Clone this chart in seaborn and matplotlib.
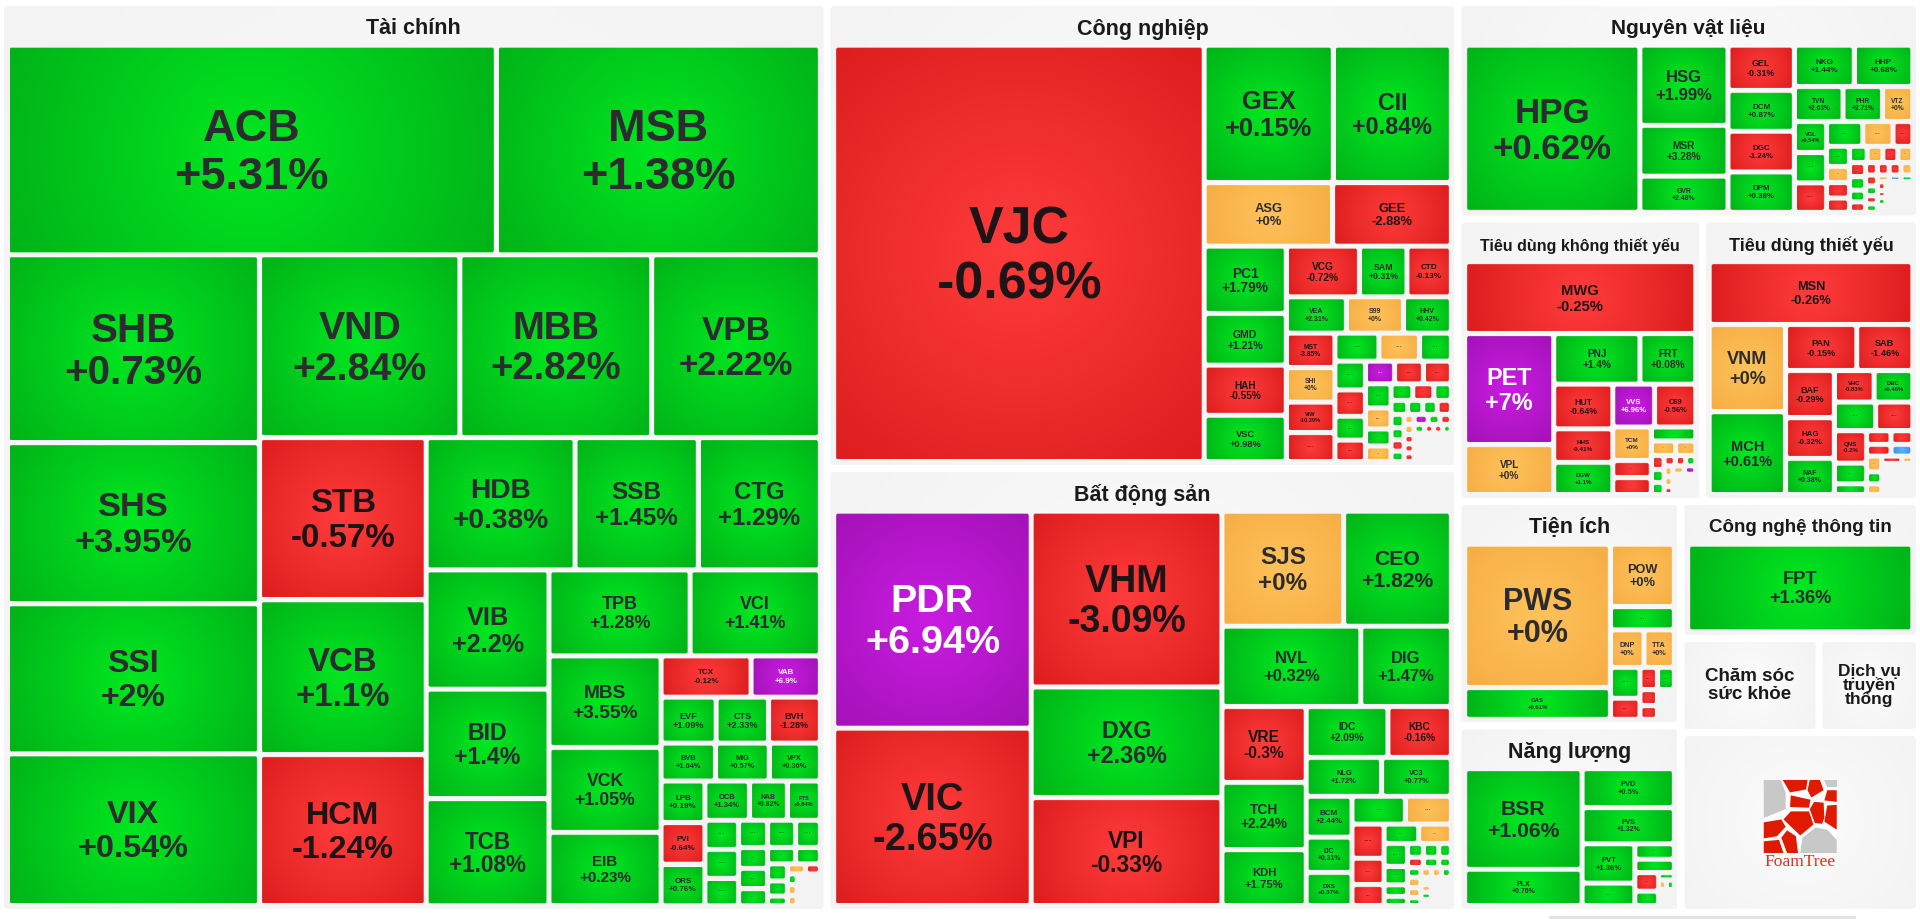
import numpy as np
import matplotlib
matplotlib.use('Agg')
import matplotlib.pyplot as plt
from matplotlib.patches import FancyBboxPatch, Rectangle
import seaborn as sns

# --- DATA: one set of arrays per sector ---
# names run out before the tiles do: the rest are the unnamed "..." tiles.
# trees: nested lists, direction flips each level, an int = that many tiles in a run
fin_names = ['ACB', 'MSB', 'SHB', 'SHS', 'SSI', 'VIX', 'VND', 'MBB', 'VPB', 'STB', 'VCB', 'HCM', 'HDB', 'SSB', 'CTG',
             'VIB', 'BID', 'TCB', 'TPB', 'VCI', 'MBS', 'VCK', 'EIB', 'TCX', 'VAB', 'EVF', 'CTS', 'BVH', 'BVB', 'MIG',
             'VPX', 'LPB', 'PVI', 'ORS', 'OCB', 'NAB', 'FTS']
fin_change = [5.31, 1.38, 0.73, 3.95, 2, 0.54, 2.84, 2.82, 2.22, -0.57, 1.1, -1.24, 0.38, 1.45, 1.29,
              2.2, 1.4, 1.08, 1.28, 1.41, 3.55, 1.05, 0.23, -0.12, 6.9, 1.09, 2.33, -1.28, 1.64, 0.57,
              0.36, 0.19, -0.64, 0.76, 1.34, 0.82, 0.84,
              1, 1, 1, 1, 1, 1, 1, 1, 1, 1, 1, 1, 1, 1, 0, -1, 1, 0, 0, None]
fin_weight = [68600, 45450, 31724, 27192, 25338, 25647, 24518, 23472, 20631, 18088, 17272, 16864, 13176, 10908, 10800,
              9800, 9000, 8800, 8120, 7490, 6870, 6370, 5505, 2485, 1911, 1693, 1612, 1592, 1380, 1363,
              1296, 1220, 1220, 1220, 1169, 996, 866,
              657, 649, 619, 531, 404, 394, 332, 509, 450, 308, 272, 226, 200, 129, 122, 100, 71, 71, 69, 492]
fin_tree = [2, [4, [3, [3, [3, [3, [2, [3, [2, 3, 3, [3, [3, [3, 4, [2, 2, [3, [2, [3, 1]]]]]]]]]]]]]]]]

cn_names = ['VJC', 'GEX', 'CII', 'ASG', 'GEE', 'PC1', 'GMD', 'HAH', 'VSC', 'VCG', 'SAM', 'CTD', 'VEA', 'S99', 'HHV',
            'MST', 'SHI', 'VIW']
cn_change = [-0.69, 0.15, 0.84, 0, -2.88, 1.79, 1.21, -0.55, 0.98, -0.72, 0.31, -0.13, 2.31, 0, 0.42,
             -3.85, 0, -10.29, -1, 1, 0, 1, 1, -1, 1, -1, 7, -1, -1, 1, 0, 1, 0, 1, -1, 1, 1, 1, 1, -1,
             1, 1, -1, 1, 0, 0, -1, -1, -1, 7, 1, -1, 1, -1, -1, 1, None]
cn_weight = [102340, 11763, 10760, 5407, 4996, 3662, 2810, 2729, 2529, 2458, 1597, 1490, 1448, 1375, 1153,
             1114, 1114, 985, 942, 817, 752, 591, 582, 532, 481, 438, 438, 433, 420, 410, 357, 289, 269, 240, 233, 192,
             155, 140, 134, 131, 115, 104, 98, 92, 67, 67, 62, 60, 60, 93, 78, 75, 61, 52, 52, 50, 706]
cn_tree = [1, [2, 2, [4, [3, 3, [4, [3, [4, [3, [4, [3, 4, [4, 5, [3, 4, 1]]]]]]]]]]]]

bds_names = ['PDR', 'VIC', 'VHM', 'DXG', 'VPI', 'SJS', 'CEO', 'NVL', 'DIG', 'VRE', 'TCH', 'KDH', 'IDC', 'KBC', 'NLG',
             'VC3', 'BCM', 'IJC', 'DXS']
bds_change = [6.94, -2.65, -3.09, 2.36, -0.33, 0, 1.82, 0.32, 1.47, -0.3, 2.24, 1.75, 2.09, -0.16, 1.72,
              0.77, 2.44, 0.31, 0.37, 1, 0, -1, -1, -1, 1, 0, 1, 1, 1, 1, 1, 1, 1, -1, 1, 1, 1, 0, 0, 1,
              0, 0, 1, None, 0, 1, None, None]
bds_weight = [28328, 23192, 22165, 13950, 13640, 9254, 8184, 7378, 4810, 4224, 3748, 3124, 2750, 2131, 1936,
              1790, 1237, 1070, 1009, 980, 845, 725, 558, 451, 444, 418, 352, 287, 179, 145, 144, 140, 114,
              109, 106, 86, 86, 92, 89, 71, 67, 64, 64, 50, 52, 49, 44, 377]
bds_tree = [2, 3, [2, 2, [3, [2, 2, [3, [2, [3, [2, [4, [3, 3, [4, [3, [4, 1]]]]]]]]]]]]]

nvl_names = ['HPG', 'HSG', 'MSR', 'GVR', 'GEL', 'DCM', 'DGC', 'DPM', 'NKG', 'HHP', 'TVN', 'PHR', 'VTZ', 'VGL']
nvl_change = [0.62, 1.99, 3.28, 2.48, -0.31, 0.87, -1.24, 0.38, 1.44, 0.68, 2.63, 2.71, 0, 0.54,
              1, -1, 1, 0, -1, 1, 0, -1, -1, 1, 0, -1, 0, -1, 1, 1, -1, -1, -1, -1, 0, -1, 1, -1, 1,
              0, -7, 1, -1, -1, 1, None, None]
nvl_weight = [19235, 4642, 2939, 2092, 1971, 1780, 1773, 1758, 1629, 1593, 1120, 908, 696, 654, 643, 622, 590, 492, 321,
              304, 243, 233, 215, 190, 169, 161, 160, 149, 142, 124, 110, 96, 96, 96, 96, 85, 77, 63, 66,
              52, 52, 52, 51, 38, 45, 38, 539]
nvl_tree = [1, 3, 4, [2, 3, [3, [3, [4, [4, [4, [4, [4, [3, [4, 1]]]]]]]]]]]

tdk_names = ['MWG', 'PET', 'VPL', 'PNJ', 'FRT', 'HUT', 'HHS', 'DGW', 'VVS', 'C69', 'TCM']
tdk_change = [-0.25, 7, 0, 1.4, 0.08, -0.64, -0.41, 1.1, 6.96, -0.56, 0,
              -1, -1, 1, 0, 0, -1, 1, 1, -1, -1, 1, 0, 0, -1, 0, 7, None]
tdk_weight = [10974, 6525, 2950, 2874, 1862, 1742, 1308, 1263, 1179, 1169, 852,
              434, 434, 410, 236, 194, 118, 110, 104, 76, 71, 69, 62, 58, 48, 63, 63, 312]
tdk_tree = [1, [2, [2, [3, [2, [3, [1, 2, [3, [3, [3, [2, 1]]]]]]]]]]]

tdt_names = ['MSN', 'VNM', 'MCH', 'PAN', 'SAB', 'BAF', 'HAG', 'NAF', 'VHC', 'DBC', '...', '...', 'QNS']
tdt_change = [-0.26, 0, 0.61, -0.15, -1.46, -0.29, -0.32, 0.38, -0.83, 0.46, 1, -1, -0.2,
              1, 1, -1, -1, -1, -7, 0, 1, 0, -1, 0, None]
tdt_weight = [8411, 4373, 4164, 2155, 1695, 1513, 1305, 1166, 825, 801, 780, 700, 686,
              438, 233, 220, 196, 188, 167, 157, 120, 110, 97, 53, 640]
tdt_tree = [1, [2, [2, [3, [2, 2, [3, [2, 2, [3, [2, 1]]]]]]]]]

ti_names = ['PWS', 'GAS', 'POW', '...', 'DNP', 'TTA']
ti_change = [0, 0.61, 0, 1, 0, 0, 1, -1, -1, -1, -1, 1, None]
ti_weight = [184458, 40702, 35245, 13110, 11150, 10035, 8052, 5500, 3432, 2470, 2106, 3300, 4400]
ti_tree = [2, [1, 1, 2, [2, 3, 2]]]

nl_names = ['BSR', 'PLX', 'PVD', 'PVS', 'PVT']
nl_change = [1.06, 0.76, 0.5, 1.32, 1.36, 1, 1, 1, -1, 1, 1, 0, 1, None]
nl_weight = [104675, 37921, 31842, 29509, 18369, 10598, 5405, 4700, 3878, 3067, 1010, 682, 682, 2256]
nl_tree = [2, [1, 1, [2, [1, 1, [2, [1, 2, 1]]]]]]

cntt_names = ['FPT']
cntt_change = [1.36]
cntt_weight = [1]
cntt_tree = [1]

sector_titles = ['Tài chính', 'Công nghiệp', 'Bất động sản', 'Nguyên vật liệu', 'Tiêu dùng không thiết yếu',
                 'Tiêu dùng thiết yếu', 'Tiện ích', 'Năng lượng', 'Công nghệ thông tin',
                 'Chăm sóc\nsức khỏe', 'Dịch vụ\ntruyền\nthông', '']
sector_weight = [752115, 294046, 280164, 99915, 69071, 61303, 50063, 41590, 32675, 12972, 9447, 42930]
sector_tree = [1, 2, [1, 2, [2, [1, 2, 1]]]]

# --- STYLE ---
sns.set_theme(style='white')
plt.rcParams['font.family'] = ['Liberation Sans', 'DejaVu Sans']

title_pt = [15.5, 15.5, 15.5, 15, 11.5, 13, 15.5, 15.5, 13.5, 13.5, 12.5, 0]
title_spacing = [1, 1, 1, 1, 1, 1, 1, 1, 1, 1.04, 0.89, 1]
title_band = 41.5
panel_pad = 5.5
panel_gap = 7
tile_gap = 4.6

# center, edge, text colour for each price band
bands = {
    'green': ('#00e820', '#00b418', '#2b2b30'),
    'red': ('#ff3c3c', '#de1e1e', '#1c1416'),
    'orange': ('#ffc25a', '#f6ae45', '#2b2b30'),
    'purple': ('#ca1ce2', '#a412b8', '#ffffff'),
    'blue': ('#5cb0ff', '#3a92e4', '#2b2b30'),
}
cmaps = {k: sns.blend_palette(v[:2], as_cmap=True) for k, v in bands.items()}
panel_cmap = sns.blend_palette(['#fcfcfc', '#f3f3f3'], as_cmap=True)


def band_of(change):
    if change >= 6.5:
        return 'purple'
    if -7 <= change <= -6.5:
        return 'blue'
    if change > 0:
        return 'green'
    return 'red' if change < 0 else 'orange'


# --- TREEMAP LAYOUT ---
def resolve(node, idx):
    if isinstance(node, int):
        return [next(idx) for _ in range(node)]
    return [resolve(c, idx) for c in node]


def total(node, weights):
    if isinstance(node, int):
        return weights[node]
    return sum(total(c, weights) for c in node)


def place(node, box, vertical, weights, out):
    if isinstance(node, int):
        out.append((node, box))
        return
    x, y, w, h = box
    s = total(node, weights)
    for c in node:
        share = total(c, weights) / s
        if vertical:
            place(c, (x, y, w, h * share), False, weights, out)
            y += h * share
        else:
            place(c, (x, y, w * share, h), True, weights, out)
            x += w * share


def layout(tree, weights, box, vertical):
    out = []
    place(resolve(tree, iter(range(len(weights)))), box, vertical, weights, out)
    return sorted(out)


def gradient_box(ax, box, cmap, radius, outline=None):
    x, y, w, h = box
    if w <= 0 or h <= 0:
        return
    u, v = np.meshgrid(np.linspace(-w / 2, w / 2, 40), np.linspace(-h / 2, h / 2, 40))
    r = np.hypot(u, v) / np.hypot(w / 2, h / 2)
    clip = FancyBboxPatch((x, y), w, h, boxstyle=f'round,pad=0,rounding_size={min(radius, w / 2, h / 2)}',
                          fc='none', ec=outline or 'none', lw=0.6, transform=ax.transData, zorder=2)
    ax.add_patch(clip)
    im = ax.imshow(r, extent=(x, x + w, y + h, y), cmap=cmap, vmin=0, vmax=1, aspect='auto',
                   interpolation='bilinear')
    im.set_clip_path(clip)


def draw_tile(ax, box, name, change):
    x, y, w, h = box
    band = band_of(change)
    gradient_box(ax, box, cmaps[band], 2, outline=(1, 1, 1, 0.35))
    cx, cy = x + w / 2, y + h / 2
    color = bands[band][2]
    if name == '...':
        em = min(9, 0.3 * h, 0.5 * w)
        if em >= 2.5:
            ax.text(cx, cy, '···', ha='center', va='center', fontsize=em * 0.72, fontweight='bold',
                    color=color, alpha=0.8)
        return
    pct = f'{change:+g}%'
    em = min(52, 0.22 * h, 0.7 * w / max(len(pct) * 0.57, len(name) * 0.75))
    # the two lines sit a little under the middle, same as the page
    for text, dy in ((name, -0.45), (pct, 0.6)):
        ax.text(cx, cy + dy * em, text, ha='center', va='center', fontsize=em * 0.72, fontweight='bold', color=color)


def draw_logo(ax, box):
    cells = [
        ('#c8c8c8', [(0, 0), (.23, 0), (.3, .17), (.3, .4), (0, .52)]),
        ('#e01a00', [(.26, 0), (.6, 0), (.58, .13), (.36, .17)]),
        ('#e01a00', [(.63, 0), (.77, 0), (.82, .14), (.65, .24), (.6, .14)]),
        ('#c8c8c8', [(.83, 0), (1, 0), (1, .1), (.86, .1)]),
        ('#e01a00', [(.37, .21), (.64, .27), (.62, .38), (.36, .37)]),
        ('#e01a00', [(.87, .14), (1, .14), (1, .3), (.83, .28)]),
        ('#e01a00', [(.69, .3), (.82, .31), (.83, .52), (.8, .6), (.7, .59), (.63, .4)]),
        ('#e01a00', [(.87, .35), (1, .34), (1, .68), (.83, .57)]),
        ('#e01a00', [(.37, .43), (.62, .43), (.68, .61), (.5, .76), (.27, .54)]),
        ('#e01a00', [(0, .58), (.24, .54), (.3, .64), (.18, .77), (0, .8)]),
        ('#e01a00', [(.32, .69), (.44, .77), (.47, 1), (.32, 1), (.24, .79)]),
        ('#e01a00', [(0, .84), (.21, .82), (.27, 1), (0, 1)]),
        ('#c8c8c8', [(.5, 1), (.53, .79), (.71, .65), (.87, .68), (1, .82), (1, 1)]),
    ]
    size = 73
    x0 = box[0] + box[2] / 2 - size / 2
    y0 = box[1] + box[3] / 2 - size / 2 - 6
    ax.add_patch(Rectangle((x0, y0), size, size, fc='white', ec='none', zorder=1.5))
    for color, pts in cells:
        p = np.array(pts) * size + [x0, y0]
        ax.fill(p[:, 0], p[:, 1], color=color, lw=0, zorder=2)
    ax.text(x0 + size / 2, y0 + size + 9, 'FoamTree', ha='center', va='center', fontsize=12.6, color='#e03020',
            family='Liberation Serif')


# --- DRAW ---
fig = plt.figure(figsize=(19.2, 9.19), dpi=100)
ax = fig.add_axes([0, 0, 1, 1])

sectors = [
    (fin_names, fin_change, fin_weight, fin_tree, True),
    (cn_names, cn_change, cn_weight, cn_tree, False),
    (bds_names, bds_change, bds_weight, bds_tree, False),
    (nvl_names, nvl_change, nvl_weight, nvl_tree, False),
    (tdk_names, tdk_change, tdk_weight, tdk_tree, True),
    (tdt_names, tdt_change, tdt_weight, tdt_tree, True),
    (ti_names, ti_change, ti_weight, ti_tree, False),
    (nl_names, nl_change, nl_weight, nl_tree, False),
    (cntt_names, cntt_change, cntt_weight, cntt_tree, True),
]

panels = layout(sector_tree, sector_weight, (0.5, 2.5, 1919, 910), False)
for k, (_, (px, py, pw, ph)) in enumerate(panels):
    px, py, pw, ph = px + panel_gap / 2, py + panel_gap / 2, pw - panel_gap, ph - panel_gap
    gradient_box(ax, (px, py, pw, ph), panel_cmap, 4)
    title = sector_titles[k]
    if k >= len(sectors):
        # sectors too small to show tiles, only the name
        if title:
            ax.text(px + pw / 2, py + ph / 2, title, ha='center', va='center', fontsize=title_pt[k],
                    fontweight='bold', color='#1a1a1a', linespacing=title_spacing[k])
        else:
            draw_logo(ax, (px, py, pw, ph))
        continue
    ax.text(px + pw / 2, py + 23, title, ha='center', va='center', fontsize=title_pt[k], fontweight='bold',
            color='#1a1a1a')
    names, change, weight, tree, vertical = sectors[k]
    g = tile_gap / 2
    inner = (px + panel_pad - g, py + title_band - g, pw - 2 * panel_pad + tile_gap,
             ph - title_band - panel_pad + tile_gap)
    for i, (x, y, w, h) in layout(tree, weight, inner, vertical):
        if change[i] is None:
            continue
        name = names[i] if i < len(names) else '...'
        draw_tile(ax, (x + g, y + g, max(w - tile_gap, 2), max(h - tile_gap, 2)), name, change[i])

# scrollbar remnant at the bottom of the page
ax.add_patch(Rectangle((1549, 916), 307, 3, fc='#e2e2e2', ec='none'))

ax.set_xlim(0, 1920)
ax.set_ylim(919, 0)
ax.axis('off')
fig.savefig('out.png', dpi=100, facecolor='white')
